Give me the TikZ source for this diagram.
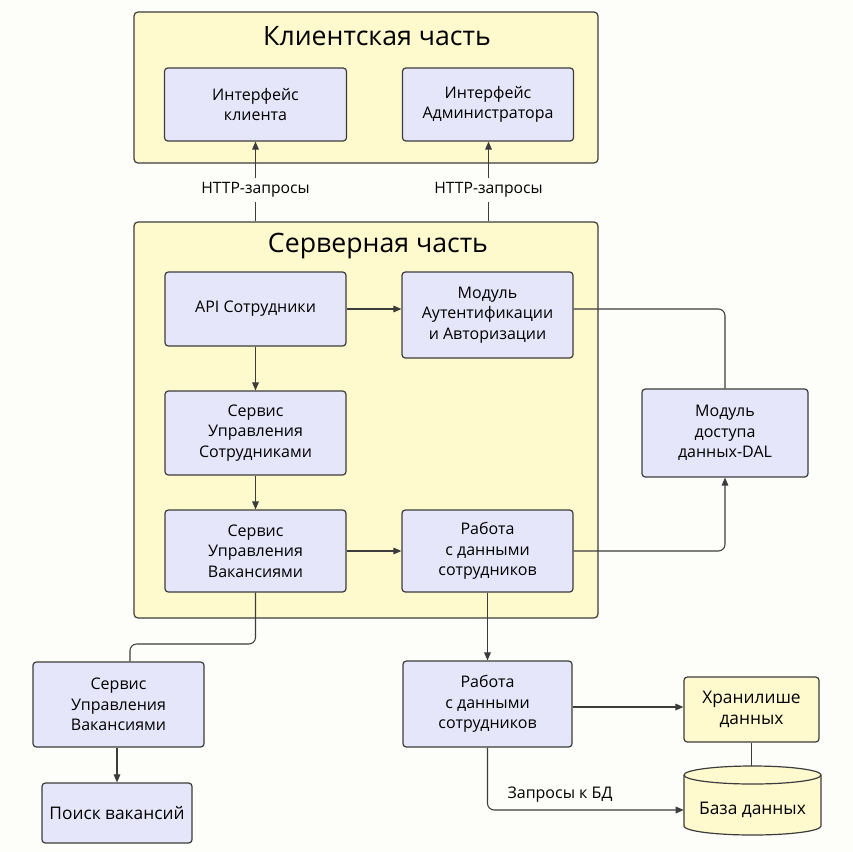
\documentclass[tikz,border=0pt]{standalone}
\usepackage{fontspec}
\setmainfont{Open Sans}
\usetikzlibrary{arrows.meta}
\definecolor{bgc}{HTML}{FDFDF9}
\definecolor{cont}{HTML}{FFFACD}
\definecolor{lav}{HTML}{E6E6FA}
\definecolor{edge}{HTML}{3C3C3C}
\newcommand\nodefont{\fontsize{12}{15.5}\selectfont}
\newcommand\titlefont{\fontsize{20}{24}\selectfont}
\begin{document}
\begin{tikzpicture}[x=0.75pt,y=-0.75pt,
  container/.style={draw=edge, fill=cont, rounded corners=3pt, line width=0.9pt, inner sep=0pt},
  title/.style={font=\titlefont, text=black, inner sep=0pt},
  box/.style={draw=edge, fill=lav, rounded corners=2.5pt, line width=0.9pt, align=center, inner sep=0pt, font=\nodefont},
  ybox/.style={box, fill=cont},
  lbl/.style={font=\fontsize{11.75}{14}\selectfont, inner sep=3pt},
  conn/.style={draw=edge, line width=0.8pt},
  arr/.style={conn, -{Triangle[length=6pt,width=5pt]}},
  rcorner/.style={rounded corners=5pt}]
\fill[bgc] (0,0) rectangle (853,851);
\useasboundingbox (0,0) rectangle (853,851);

% containers
\node[container, minimum width=348pt, minimum height=113.25pt] (client) at (366,87.5) {};
\node[title] (ctitle) at (377,36) {Клиентская часть};
\node[container, minimum width=348pt, minimum height=297pt] (server) at (366,420) {};
\node[title] (stitle) at (378,246) {Серверная часть};

% client boxes
\node[box, minimum width=136.5pt, minimum height=54.75pt] (cli) at (255.5,104.5) {Интерфейс\\клиента};
\node[box, minimum width=128.25pt, minimum height=54.75pt] (adm) at (488,104.5) {Интерфейс\\Администратора};

% server boxes
\node[box, minimum width=135.75pt, minimum height=55.5pt] (api) at (255.5,309) {API Сотрудники};
\node[box, minimum width=128.25pt, minimum height=64.5pt] (auth) at (487.5,315) {Модуль\\Аутентификации\\и Авторизации};
\node[box, minimum width=135.75pt, minimum height=63pt] (ssot) at (255.5,433) {Сервис\\Управления\\Сотрудниками};
\node[box, minimum width=135.75pt, minimum height=61.5pt] (svak) at (255.5,551) {Сервис\\Управления\\Вакансиями};
\node[box, minimum width=128.25pt, minimum height=61.5pt] (rab1) at (487.5,551) {Работа\\с данными\\сотрудников};

% outside boxes
\node[box, minimum width=124.5pt, minimum height=66pt] (dal) at (725,433) {Модуль\\доступа\\данных-DAL};
\node[box, minimum width=128.25pt, minimum height=63.75pt] (svak2) at (118.5,704.5) {Сервис\\Управления\\Вакансиями};
\node[box, minimum width=112.5pt, minimum height=45pt, font=\fontsize{13}{16}\selectfont] (poisk) at (117,813) {Поиск вакансий};
\node[box, minimum width=126.75pt, minimum height=64.5pt] (rab2) at (487.5,704) {Работа\\с данными\\сотрудников};
\node[ybox, minimum width=101.25pt, minimum height=48.75pt, font=\fontsize{13}{16}\selectfont] (stor) at (751.5,709.5) {Хранилише\\данных};

% database cylinder
\filldraw[fill=cont, draw=edge, line width=0.9pt]
  (684,775) -- (684,826) arc[start angle=180, end angle=360, x radius=51.375pt, y radius=6.75pt]
  -- (821,775) arc[start angle=0, end angle=180, x radius=51.375pt, y radius=6.75pt] -- cycle;
\draw[draw=edge, line width=0.9pt] (684,775) arc[start angle=180, end angle=360, x radius=51.375pt, y radius=6.75pt];
\coordinate (dbtop) at (752.5,766);
\node[inner sep=0pt, minimum width=102.75pt, minimum height=30pt, font=\fontsize{13}{16}\selectfont] (db) at (752.5,810) {База данных};

% HTTP labels
\node[lbl] (h1) at (255.5,190) {HTTP-запросы};
\node[lbl] (h2) at (488.5,190) {HTTP-запросы};
\draw[conn] (server.north -| h1) -- (h1);
\draw[arr] (h1) -- (h1 |- cli.south);
\draw[conn] (server.north -| h2) -- (h2);
\draw[arr] (h2) -- (h2 |- adm.south);

% server connectors
\draw[arr] (api.east) -- (api.east -| auth.west);
\draw[arr] (api) -- (ssot);
\draw[arr] (ssot) -- (svak);
\draw[arr] (svak.east) -- (svak.east -| rab1.west);
\draw[arr, rcorner] (rab1.east) -| (dal.south);
\draw[conn, rcorner] (auth.east |- api) -| (dal.north);

% lower connectors
\coordinate (k1) at (130,644);
\draw[conn, rcorner] (svak.south) |- (k1) -- (k1 |- svak2.north);
\draw[arr] (svak2.south -| poisk.north) -- (poisk.north);
\draw[arr] (rab1) -- (rab2);
\draw[arr] ([yshift=-2.25pt]rab2.east) -- ([yshift=-2.25pt]rab2.east -| stor.west);
\draw[arr, rcorner] (rab2.south) |- (db.west);
\node[font=\fontsize{12}{14}\selectfont, inner sep=0pt] (q) at (560,795) {Запросы к БД};
\draw[conn] (stor.south) -- (stor.south |- dbtop);
\end{tikzpicture}
\end{document}
